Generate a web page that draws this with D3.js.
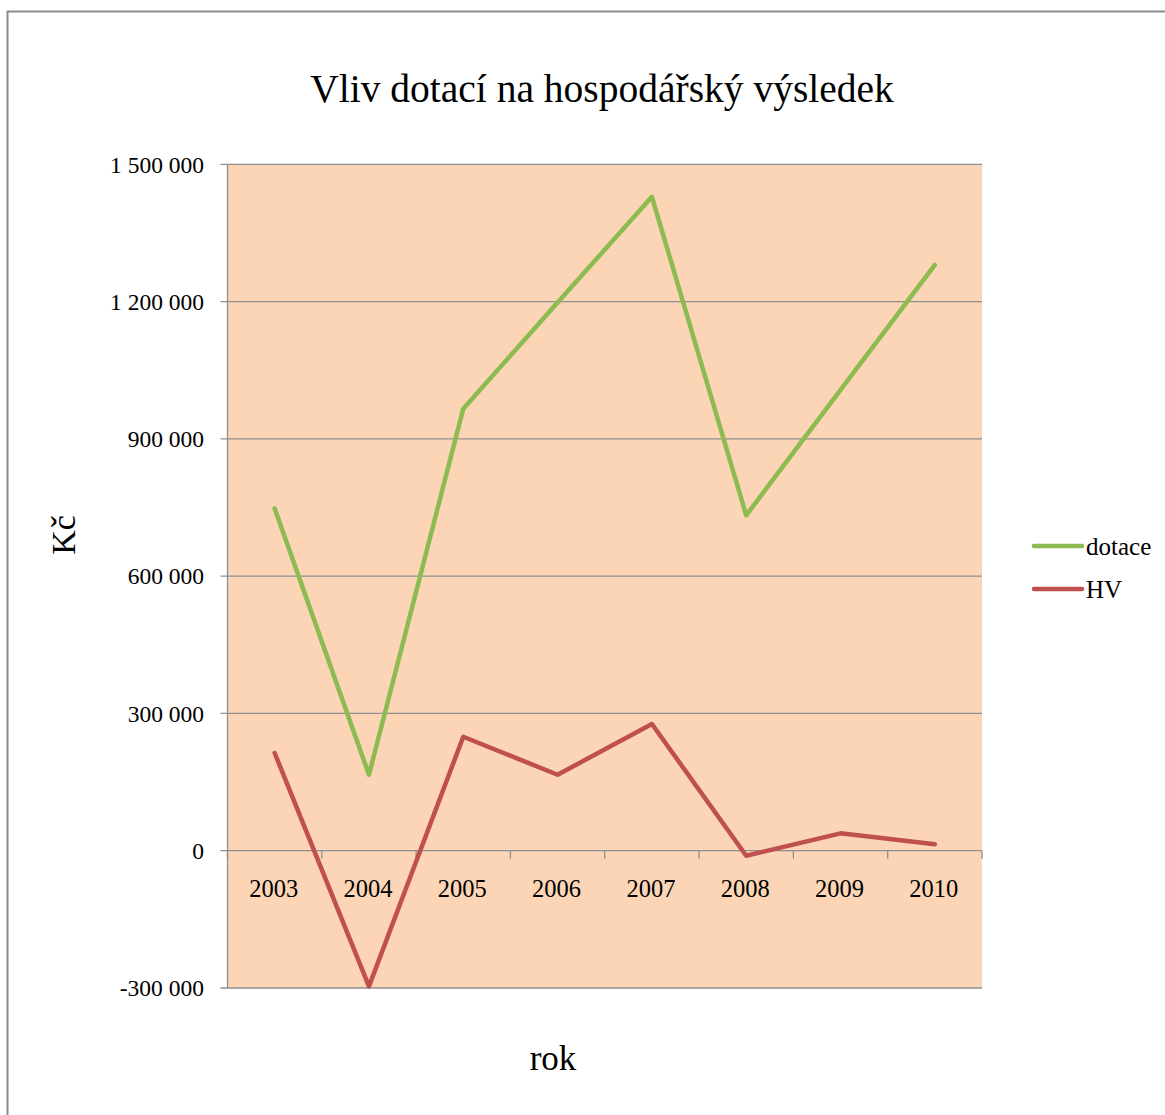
<!DOCTYPE html>
<html><head><meta charset="utf-8">
<script src="https://cdn.jsdelivr.net/npm/d3@7"></script>
<style>body{margin:0;background:#fff}svg{display:block}</style>
</head><body>
<script>
const years = ["2003","2004","2005","2006","2007","2008","2009","2010"];
const dotace = [748000, 166000, 966000, 1198000, 1429000, 733000, 1007000, 1280000];
const hv = [213500, -296500, 249000, 166000, 277000, -11000, 38000, 14000];
const yTicks = [-300000, 0, 300000, 600000, 900000, 1200000, 1500000];
const yTickLabels = ["-300 000", "0", "300 000", "600 000", "900 000", "1 200 000", "1 500 000"];
const seriesNames = ["dotace", "HV"];
const seriesColors = ["#8CBB50", "#C0504D"];

const W = 1165, H = 1115;
const svg = d3.select("body").append("svg").attr("width", W).attr("height", H);
const serif = "'Liberation Serif', 'Times New Roman', serif";

svg.append("rect").attr("x", 7.5).attr("y", 11.5).attr("width", 1200).attr("height", 1200)
  .attr("fill", "#fff").attr("stroke", "#8c8c8c").attr("stroke-width", 2);

const L = 227.5, R = 982, T = 164.3, B = 988;
const x = d3.scaleBand().domain(years).range([L, R]);
const y = d3.scaleLinear().domain([-300000, 1500000]).range([B, T]);

svg.append("rect").attr("x", L).attr("y", T).attr("width", R - L).attr("height", B - T).attr("fill", "#FBD5B5");

// gridlines
svg.append("g").selectAll("line").data(yTicks).join("line")
  .attr("x1", L - 7).attr("x2", R).attr("y1", d => y(d)).attr("y2", d => y(d))
  .attr("stroke", "#8f8f8f").attr("stroke-width", 1.3);

// y axis line
svg.append("line").attr("x1", L).attr("x2", L).attr("y1", T).attr("y2", B)
  .attr("stroke", "#8f8f8f").attr("stroke-width", 1.3);

// y labels
svg.append("g").selectAll("text").data(yTicks).join("text")
  .attr("x", 204).attr("y", d => y(d)).attr("dy", "0.35em").attr("text-anchor", "end")
  .attr("font-family", serif).attr("font-size", 23.5).attr("fill", "#000")
  .text((d, i) => yTickLabels[i]);

// x axis ticks at category boundaries
const bounds = years.map(d => x(d) + x.bandwidth()).concat([L]);
svg.append("g").selectAll("line").data(bounds).join("line")
  .attr("x1", d => d).attr("x2", d => d).attr("y1", y(0)).attr("y2", y(0) + 8)
  .attr("stroke", "#8f8f8f").attr("stroke-width", 1.3);

// x labels
svg.append("g").selectAll("text").data(years).join("text")
  .attr("x", d => x(d) + x.bandwidth() / 2 - 1).attr("y", 897).attr("text-anchor", "middle")
  .attr("font-family", serif).attr("font-size", 24.5).attr("fill", "#000").text(d => d);

// lines
const line = d3.line().x((d, i) => x(years[i]) + x.bandwidth() / 2).y(d => y(d));
[dotace, hv].forEach((s, k) => {
  svg.append("path").attr("d", line(s)).attr("fill", "none")
    .attr("stroke", seriesColors[k]).attr("stroke-width", 4.5)
    .attr("stroke-linejoin", "round").attr("stroke-linecap", "round");
});

// title
svg.append("text").attr("x", 602).attr("y", 102).attr("text-anchor", "middle")
  .attr("font-family", serif).attr("font-size", 39.5).attr("fill", "#000")
  .text("Vliv dotací na hospodářský výsledek");

// axis titles
svg.append("text").attr("x", 553).attr("y", 1070).attr("text-anchor", "middle")
  .attr("font-family", serif).attr("font-size", 35).attr("fill", "#000").text("rok");
svg.append("text").attr("transform", "translate(75,535) rotate(-90)").attr("text-anchor", "middle")
  .attr("font-family", serif).attr("font-size", 34).attr("fill", "#000").text("Kč");

// legend
const lg = svg.append("g").selectAll("g").data(seriesNames).join("g")
  .attr("transform", (d, i) => `translate(0,${546 + i * 43})`);
lg.append("line").attr("x1", 1034).attr("x2", 1082).attr("y1", 0).attr("y2", 0)
  .attr("stroke", (d, i) => seriesColors[i]).attr("stroke-width", 4.5).attr("stroke-linecap", "round");
lg.append("text").attr("x", 1086).attr("y", 0).attr("dy", "0.35em")
  .attr("font-family", serif).attr("font-size", 25).attr("fill", "#000").text(d => d);
</script>
</body></html>
